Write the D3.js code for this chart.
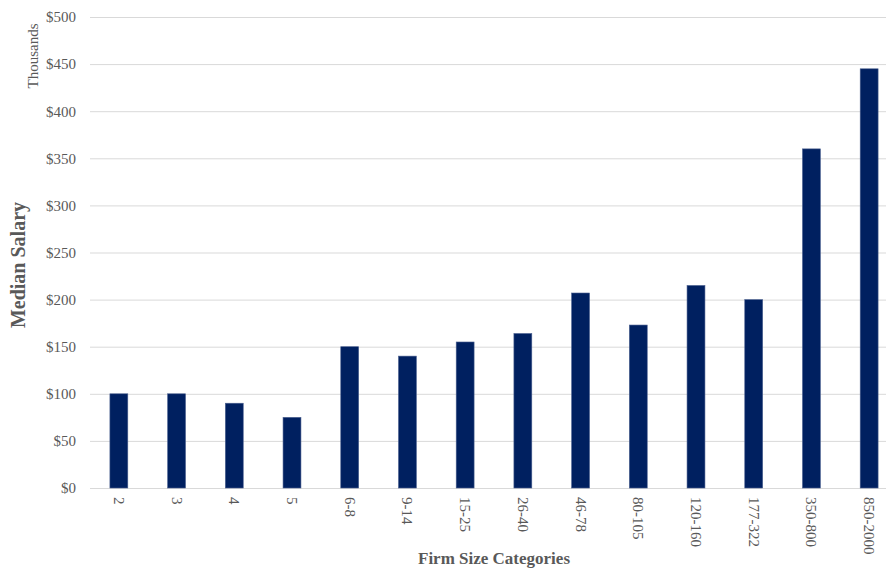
<!DOCTYPE html>
<html>
<head>
<meta charset="utf-8">
<script src="https://cdn.jsdelivr.net/npm/d3@7/dist/d3.min.js"></script>
<style>
  html, body { margin: 0; padding: 0; background: #fff; }
  svg { display: block; }
  svg text { font-family: "Liberation Serif", "Times New Roman", serif !important; }
</style>
</head>
<body>
<svg id="chart" width="886" height="570"></svg>
<script>
// Median salary (thousands of dollars) by firm size
const categories = ["2", "3", "4", "5", "6-8", "9-14", "15-25", "26-40", "46-78", "80-105", "120-160", "177-322", "350-800", "850-2000"];
const medianSalary = [100, 100, 90, 75, 150, 140, 155, 164, 207, 173, 215, 200, 360, 445];
const yTicks = [0, 50, 100, 150, 200, 250, 300, 350, 400, 450, 500];

const serif = "Liberation Serif";
const textColor = "#595959";

const svg = d3.select("#chart");
const plot = { left: 90, right: 898, top: 17, bottom: 488 };

const x = d3.scaleBand()
  .domain(categories)
  .range([plot.left, plot.right])
  .paddingInner(0.69)
  .paddingOuter(0.345);

const y = d3.scaleLinear()
  .domain([0, 500])
  .range([plot.bottom, plot.top]);

// Horizontal gridlines with dollar labels
const yAxis = d3.axisLeft(y)
  .tickValues(yTicks)
  .tickSize(-(plot.right - plot.left))
  .tickPadding(14)
  .tickFormat(d => "$" + d);

const gy = svg.append("g")
  .attr("transform", `translate(${plot.left},0)`)
  .call(yAxis)
  .attr("font-family", serif)
  .attr("font-size", 15);
gy.select(".domain").remove();
gy.selectAll(".tick line").attr("stroke", "#d9d9d9").attr("stroke-width", 1);
gy.selectAll(".tick text")
  .style("font-family", serif)
  .attr("fill", textColor);

// Bars
svg.append("g")
  .selectAll("rect")
  .data(categories.map((c, i) => ({ c, v: medianSalary[i] })))
  .join("rect")
  .attr("x", d => x(d.c))
  .attr("width", x.bandwidth())
  .attr("y", d => y(d.v))
  .attr("height", d => y(0) - y(d.v))
  .attr("fill", "#002060")
  .attr("stroke", "#4a5f8f")
  .attr("stroke-width", 0.6);

// Category labels, rotated to read downward
const xAxis = d3.axisBottom(x).tickSize(0).tickPadding(0);
const gx = svg.append("g")
  .attr("transform", `translate(0,${plot.bottom})`)
  .call(xAxis)
  .attr("font-family", serif)
  .attr("font-size", 15);
gx.select(".domain").remove();
gx.selectAll(".tick text")
  .style("font-family", serif)
  .attr("fill", textColor)
  .attr("text-anchor", "start")
  .attr("dy", null)
  .attr("y", 0)
  .attr("transform", "translate(-5,9) rotate(90)");

// Unit label
svg.append("text")
  .attr("transform", "translate(38,56) rotate(-90)")
  .attr("text-anchor", "middle")
  .attr("font-size", 15)
  .attr("fill", textColor)
  .text("Thousands");

// Axis titles
svg.append("text")
  .attr("transform", "translate(25,265) rotate(-90)")
  .attr("text-anchor", "middle")
  .attr("font-size", 20)
  .attr("font-weight", "bold")
  .attr("fill", textColor)
  .text("Median Salary");

svg.append("text")
  .attr("x", (plot.left + plot.right) / 2)
  .attr("y", 564)
  .attr("text-anchor", "middle")
  .attr("font-size", 17)
  .attr("font-weight", "bold")
  .attr("fill", textColor)
  .text("Firm Size Categories");
</script>
</body>
</html>
